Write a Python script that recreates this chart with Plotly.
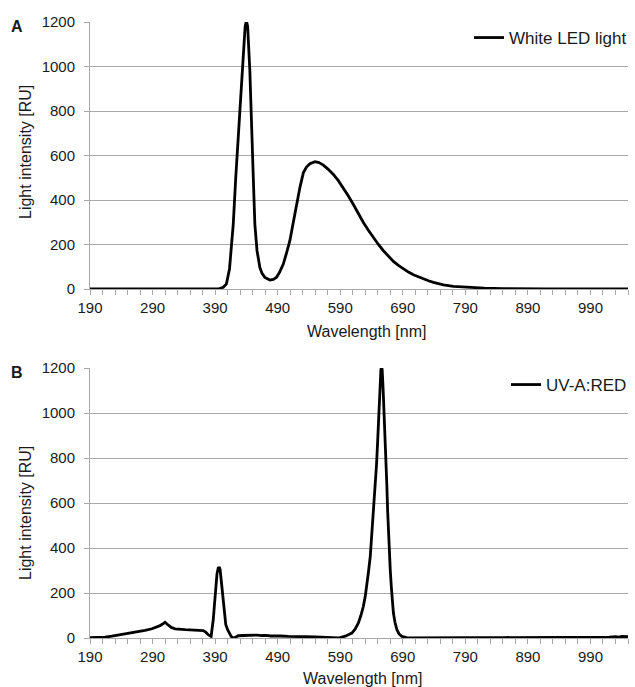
import plotly.graph_objects as go

# ---- Data ----
wl_a = [190, 300, 390, 397, 403, 408, 413, 416, 419, 423, 427, 430.5, 435, 438, 440, 442, 445.5,
        448, 451, 453.5, 457, 461.5, 465, 469.5, 477.5, 483, 488, 493, 499, 504, 509.5, 515, 520,
        525.6, 531, 536, 541.6, 549.6, 556, 563, 570, 579, 587, 595, 603, 611, 619, 627, 635, 643,
        651, 659, 667, 675, 683, 691, 699, 707, 715, 723, 731, 739, 755, 771, 793, 820, 850, 880,
        920, 1050]
int_a = [0, 0, 0, 2, 8, 22, 90, 190, 292, 502, 682, 877, 1072, 1180, 1205, 1180, 982,
         727, 502, 292, 172, 97, 70, 52, 40, 43, 52, 75, 112, 160, 217, 300, 380,
         457, 522, 548, 563, 572, 568, 557, 540, 515, 487, 455, 418, 380, 338, 299, 264, 231,
         200, 172, 147, 124, 106, 90, 76, 64, 54, 45, 37, 30, 19, 12, 7, 4, 2, 1,
         0, 0]

wl_b = [190, 200, 214, 225, 240, 254, 267, 278, 289, 296, 302, 306, 310, 313, 315.5, 320, 326,
        334, 342, 350, 358, 365, 371, 375, 379, 383.6, 385.5, 387, 389, 391, 393, 395, 397, 398,
        400, 401.7, 403, 405, 407, 410, 413, 415.6, 418, 421, 424, 427, 435, 443, 450, 457, 465,
        472, 479, 486, 495, 507, 520, 535, 550, 565, 578, 587, 598, 608.6, 614, 619, 623, 627,
        630, 632.6, 635, 638, 640, 642, 644, 646, 648, 649.7, 651, 652.4, 654, 655, 656, 657,
        658.5, 660, 661.5, 663, 664.5, 665.7, 667, 668, 670, 671.6, 673, 675, 677.5, 680.6, 684,
        688.6, 699, 720, 760, 800, 850, 900, 950, 1000, 1020, 1030, 1035, 1040, 1045, 1050]
int_b = [1, 2, 4, 8, 15, 21, 27, 34, 41, 48, 55, 62, 70, 62, 55, 47, 41,
         38, 37, 36, 36, 34, 33, 26, 15, 7, 40, 81, 150, 230, 285, 311, 312, 304,
         250, 200, 150, 96, 60, 37, 20, 7, 2, 0, 6, 10, 11, 12, 10, 13, 11,
         12, 9, 10, 9, 7, 8, 6, 5, 4, 2, 0, 8, 22, 40, 67, 100, 141,
         185, 230, 290, 363, 440, 526, 600, 674, 770, 867, 960, 1044, 1140, 1193, 1205, 1193,
         1110, 1015, 900, 793, 680, 570, 470, 378, 300, 230, 170, 111, 70, 37, 18,
         7, 0, 1, 1, 2, 2, 2, 2, 3, 4, 6, 4, 7, 5, 6]

series_names = ["White LED light", "UV-A:RED"]
panel_letters = ["A", "B"]
x_title = "Wavelength [nm]"
y_title = "Light intensity [RU]"

# ---- Layout helpers ----
W, H = 635, 687
FONT = "Liberation Sans, Arial, sans-serif"
GRID = "#a8a8a8"
TXT = "#1a1a1a"

def py(p):
    return 1 - p / H

def px(p):
    return p / W

fig = go.Figure()
fig.add_trace(go.Scatter(x=wl_a, y=int_a, mode="lines", name=series_names[0],
                         line=dict(color="black", width=2.8), xaxis="x", yaxis="y",
                         legend="legend"))
fig.add_trace(go.Scatter(x=wl_b, y=int_b, mode="lines", name=series_names[1],
                         line=dict(color="black", width=2.8), xaxis="x2", yaxis="y2",
                         legend="legend2"))

xdom = [px(90), px(628)]
domA = [py(289), py(22)]
domB = [py(638), py(368)]

def xax(anchor):
    return dict(domain=xdom, anchor=anchor, range=[190, 1050], tick0=190, dtick=100,
                ticks="outside", ticklen=5, tickcolor=GRID, showline=True, linecolor=GRID,
                linewidth=1, showgrid=False, zeroline=False, automargin=False,
                tickfont=dict(family=FONT, size=15, color=TXT),
                minor=dict(tick0=190, dtick=20, ticks="outside", ticklen=5, tickcolor=GRID,
                           showgrid=False))

def yax(anchor, dom):
    return dict(domain=dom, anchor=anchor, range=[0, 1200], dtick=200, ticks="outside",
                ticklen=5, tickcolor=GRID, showline=True, linecolor=GRID, linewidth=1,
                showgrid=True, gridcolor=GRID, gridwidth=1, zeroline=False, automargin=False,
                ticklabelstandoff=6,
                tickfont=dict(family=FONT, size=15, color=TXT))

legend_common = dict(xanchor="right", yanchor="middle", bgcolor="rgba(0,0,0,0)",
                     font=dict(family=FONT, size=17, color=TXT), borderwidth=0,
                     itemwidth=30)

fig.update_layout(
    width=W, height=H, margin=dict(l=0, r=0, t=0, b=0, autoexpand=False),
    paper_bgcolor="white", plot_bgcolor="white",
    font=dict(family=FONT, size=15, color=TXT),
    xaxis=xax("y"), yaxis=yax("x", domA),
    xaxis2=xax("y2"), yaxis2=yax("x2", domB),
    legend=dict(x=px(632), y=py(38), **legend_common),
    legend2=dict(x=px(632), y=py(385), **legend_common),
    showlegend=True,
)

annots = [
    dict(text="<b>" + panel_letters[0] + "</b>", x=px(17), y=py(27), size=16),
    dict(text="<b>" + panel_letters[1] + "</b>", x=px(17), y=py(372), size=16),
    dict(text=y_title, x=px(25), y=py(152), textangle=-90, size=16),
    dict(text=y_title, x=px(25), y=py(513), textangle=-90, size=16),
    dict(text=x_title, x=px(367), y=py(331), size=16),
    dict(text=x_title, x=px(362), y=py(678), size=16),
]
for a in annots:
    size = a.pop("size")
    fig.add_annotation(xref="paper", yref="paper", showarrow=False,
                       xanchor="center", yanchor="middle",
                       font=dict(family=FONT, size=size, color=TXT), **a)

fig.write_html("out.html", config={"displayModeBar": False},
               post_script="document.body.style.margin='0';document.body.style.overflow='hidden';")
